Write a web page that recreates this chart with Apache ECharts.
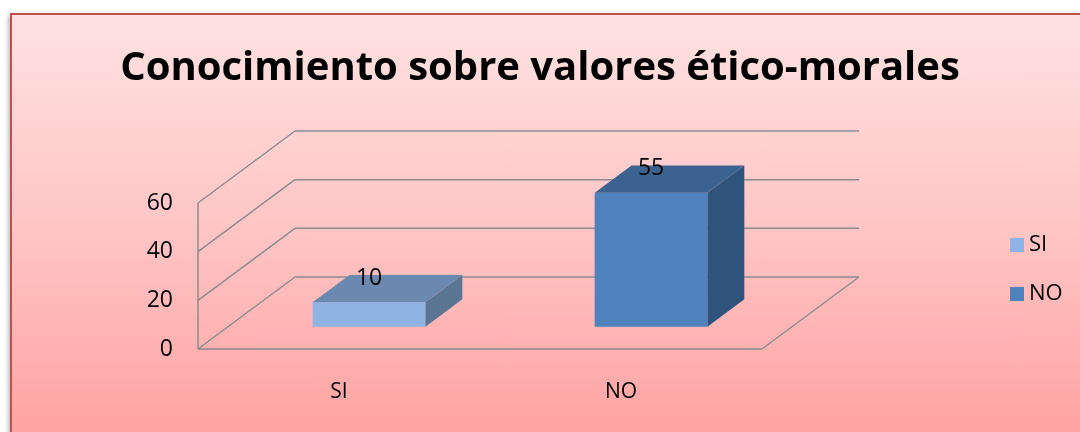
<!DOCTYPE html>
<html>
<head>
<meta charset="utf-8">
<script src="https://cdn.jsdelivr.net/npm/echarts@6/dist/echarts.min.js"></script>
<style>
  html, body { margin: 0; padding: 0; background: #ffffff; }
  #bg { position: absolute; left: 10px; top: 13px; width: 1090px; height: 440px;
        border: 2px solid #c0504d; box-sizing: border-box;
        background: linear-gradient(to bottom, #ffe2e2 0%, #ffc4c4 50%, #ffa0a0 100%);
        box-shadow: -2px 2px 4px rgba(0,0,0,0.25); }
  #chart { position: absolute; left: 0; top: 0; width: 1080px; height: 432px; }
</style>
</head>
<body>
<div id="bg"></div>
<div id="chart"></div>
<script>
const titleText = 'Conocimiento sobre valores ético-morales';
const categories = ['SI', 'NO'];
const seriesNames = ['SI', 'NO'];
const values = [10, 55];
const yTicks = [0, 20, 40, 60];

// styling constants (pixels / fractions)
const DX = 97, DY = -72;       // depth offset of the 3D box
const F0 = 0.31, F1 = 0.69;    // bar depth range (fraction of floor depth)
const BAR_W = 0.4;             // bar width relative to band
const FONT = '"Open Sans", "Noto Sans", sans-serif';
const faceColors = [
  { front: '#8fb4e3', top: '#6b89ae', side: '#5a7494' },
  { front: '#4f81bd', top: '#3c6390', side: '#30537d' }
];
const gridColor = '#8c8c8c';

const chart = echarts.init(document.getElementById('chart'));

function wallItem(params, api) {
  const v = api.value(1);
  const band = api.size([1, 0])[0];
  const p = api.coord([0, v]);
  const x0 = p[0] - band / 2;
  const plotW = band * categories.length;
  const ls = { stroke: gridColor, lineWidth: 1.5 };
  const children = [];
  children.push({ type: 'line', shape: { x1: x0, y1: p[1], x2: x0 + DX, y2: p[1] + DY }, style: ls });
  children.push({ type: 'line', shape: { x1: x0 + DX, y1: p[1] + DY, x2: x0 + DX + plotW, y2: p[1] + DY }, style: ls });
  if (v === yTicks[0]) {
    children.push({ type: 'line', shape: { x1: x0 + plotW, y1: p[1], x2: x0 + plotW + DX, y2: p[1] + DY }, style: ls });
    children.push({ type: 'line', shape: { x1: x0, y1: p[1], x2: x0 + plotW, y2: p[1] }, style: ls });
    const pt = api.coord([0, yTicks[yTicks.length - 1]]);
    children.push({ type: 'line', shape: { x1: x0, y1: p[1], x2: x0, y2: pt[1] }, style: ls });
  }
  return { type: 'group', children: children };
}

function barItem(idx) {
  return function (params, api) {
    const cat = api.value(0), v = api.value(1);
    const band = api.size([1, 0])[0];
    const base = api.coord([cat, 0]);
    const top = api.coord([cat, v]);
    const w = band * BAR_W;
    const cx = base[0] + DX * F0;
    const yb = base[1] + DY * F0;
    const yt = top[1] + DY * F0;
    const xl = cx - w / 2, xr = cx + w / 2;
    const dx = DX * (F1 - F0), dy = DY * (F1 - F0);
    const c = faceColors[idx];
    return {
      type: 'group',
      children: [
        { type: 'polygon', shape: { points: [[xl, yb], [xr, yb], [xr, yt], [xl, yt]] }, style: { fill: c.front } },
        { type: 'polygon', shape: { points: [[xr, yb], [xr + dx, yb + dy], [xr + dx, yt + dy], [xr, yt]] }, style: { fill: c.side } },
        { type: 'polygon', shape: { points: [[xl, yt], [xr, yt], [xr + dx, yt + dy], [xl + dx, yt + dy]] }, style: { fill: c.top } },
        { type: 'text', style: { text: String(v), x: cx, y: yt + dy + 3, align: 'center', verticalAlign: 'middle',
          font: '23px ' + FONT, fill: '#000' } }
      ]
    };
  };
}

const series = [{
  type: 'custom', name: 'walls', z: 1, silent: true,
  renderItem: wallItem,
  data: yTicks.map(v => [0, v])
}];
seriesNames.forEach((n, i) => {
  series.push({
    type: 'custom', name: n, z: 2,
    itemStyle: { color: faceColors[i].front },
    renderItem: barItem(i),
    data: [[i, values[i]]]
  });
});

chart.setOption({
  backgroundColor: 'transparent',
  animation: false,
  title: {
    text: titleText, left: 'center', top: 44,
    textStyle: { fontSize: 40, fontWeight: 'bold', color: '#000', fontFamily: FONT }
  },
  legend: {
    orient: 'vertical', left: 1010, top: 234, padding: 0, itemWidth: 14, itemHeight: 14, itemGap: 27,
    icon: 'rect', data: seriesNames,
    textStyle: { fontSize: 22, color: '#000', fontFamily: FONT }
  },
  grid: { left: 198, right: 318, top: 203, bottom: 83 },
  xAxis: {
    type: 'category', data: categories,
    axisLine: { show: false }, axisTick: { show: false },
    axisLabel: { margin: 33, fontSize: 21, color: '#000', fontFamily: FONT }
  },
  yAxis: {
    type: 'value', min: 0, max: 60, interval: 20,
    axisLine: { show: false }, axisTick: { show: false }, splitLine: { show: false },
    axisLabel: { margin: 25, fontSize: 23, color: '#000', fontFamily: FONT }
  },
  series: series
});
</script>
</body>
</html>
